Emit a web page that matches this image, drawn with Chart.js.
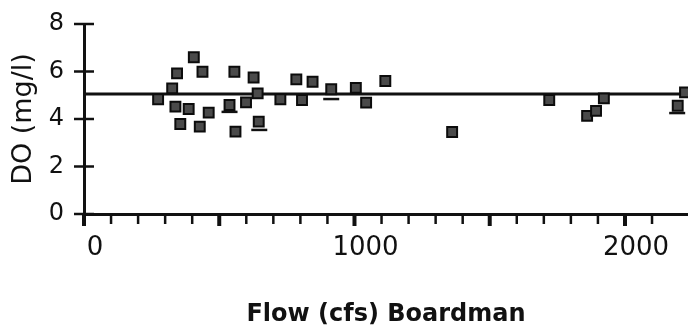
<!DOCTYPE html>
<html>
<head>
<meta charset="utf-8">
<script src="https://cdn.jsdelivr.net/npm/chart.js@4/dist/chart.umd.min.js"></script>
<style>
  html, body { margin: 0; padding: 0; background: #fff; }
  #wrap { width: 688px; height: 333px; position: relative; }
</style>
</head>
<body>
<div id="wrap"><canvas id="c"></canvas></div>
<script>
// Dissolved oxygen samples against river flow at Boardman
const flowCfs = [274, 326, 344, 406, 438, 338, 387, 461, 356, 428, 556, 538, 627, 599, 642, 560,
                 646, 726, 785, 806, 845, 914, 1005, 1043, 1114, 1361, 1720, 1860, 1893, 1922, 2195, 2222];
const doMgL   = [4.83, 5.29, 5.92, 6.60, 5.99, 4.52, 4.42, 4.27, 3.79, 3.68, 5.99, 4.59, 5.75, 4.70, 5.08, 3.47,
                 3.89, 4.83, 5.67, 4.80, 5.57, 5.25, 5.31, 4.69, 5.60, 3.45, 4.80, 4.13, 4.34, 4.87, 4.56, 5.12];

// short underscore marks beneath some samples
const markFlow = [538, 648, 914, 2193];
const markDo   = [4.30, 3.54, 4.84, 4.25];

// reference criterion line
const criterionFlow = [0, 2233];
const criterionDo   = [5.05, 5.05];

const xTickLabels = [0, 1000, 2000];
const yTickLabels = [0, 2, 4, 6, 8];
const xMax = 2233;

const ink = '#111';

// cross-through tick marks drawn on the scale positions
const axisTicks = {
  id: 'axisTicks',
  afterDraw(chart) {
    const { ctx, scales: { x, y } } = chart;
    const y0 = y.getPixelForValue(0);
    const x0 = x.getPixelForValue(0);
    ctx.save();
    ctx.strokeStyle = ink;
    ctx.lineCap = 'butt';
    x.ticks.forEach(t => {
      const px = x.getPixelForValue(t.value);
      const major = t.value % 500 === 0;
      ctx.lineWidth = major ? 4 : 2.5;
      ctx.beginPath();
      ctx.moveTo(px, y0);
      ctx.lineTo(px, y0 + (major ? 12 : 10));
      ctx.stroke();
    });
    y.ticks.forEach(t => {
      const py = y.getPixelForValue(t.value);
      ctx.lineWidth = 2.5;
      ctx.beginPath();
      ctx.moveTo(x0 - 10, py);
      ctx.lineTo(x0 + 10, py);
      ctx.stroke();
    });
    ctx.restore();
  }
};

new Chart(document.getElementById('c'), {
  type: 'scatter',
  data: {
    datasets: [
      {
        type: 'line',
        data: criterionFlow.map((f, i) => ({ x: f, y: criterionDo[i] })),
        borderColor: ink,
        borderWidth: 3,
        pointRadius: 0,
        fill: false,
        clip: false,
        order: 3
      },
      {
        data: markFlow.map((f, i) => ({ x: f, y: markDo[i] })),
        pointStyle: 'line',
        pointRadius: 8,
        borderColor: ink,
        borderWidth: 2.5,
        clip: false,
        order: 2
      },
      {
        data: flowCfs.map((f, i) => ({ x: f, y: doMgL[i] })),
        pointStyle: 'rect',
        pointRadius: 7,
        backgroundColor: '#4a4a4a',
        borderColor: '#0c0c0c',
        borderWidth: 2,
        clip: false,
        order: 1
      }
    ]
  },
  options: {
    responsive: true,
    maintainAspectRatio: false,
    animation: false,
    layout: { autoPadding: false, padding: { top: 24, right: 0, left: 0, bottom: 0 } },
    plugins: { legend: { display: false }, tooltip: { enabled: false } },
    scales: {
      x: {
        type: 'linear',
        min: 0,
        max: xMax,
        afterFit: s => { s.height = 119; s.paddingLeft = 0; s.paddingRight = 0; },
        afterBuildTicks: s => { s.ticks = s.ticks.filter(t => t.value % 100 === 0); },
        border: { display: true, color: ink, width: 3 },
        grid: { display: false, drawTicks: false, tickLength: 0 },
        ticks: {
          stepSize: 100,
          autoSkip: false,
          maxRotation: 0,
          padding: 19,
          labelOffset: 11,
          color: ink,
          font: { family: 'DejaVu Sans', size: 26 },
          callback: v => (xTickLabels.includes(v) ? String(v) : '')
        },
        title: {
          display: true,
          text: 'Flow (cfs) Boardman',
          color: ink,
          font: { family: 'DejaVu Sans', size: 24, weight: 'bold' },
          padding: { top: 0, bottom: 4 }
        }
      },
      y: {
        min: 0,
        max: 8,
        afterFit: s => { s.width = 84; s.paddingTop = 0; s.paddingBottom = 0; },
        afterBuildTicks: s => { s.ticks = yTickLabels.map(v => ({ value: v })); },
        border: { display: true, color: ink, width: 3 },
        grid: { display: false, drawTicks: false, tickLength: 0 },
        ticks: {
          stepSize: 2,
          padding: 20,
          color: ink,
          font: { family: 'DejaVu Sans', size: 24 }
        },
        title: {
          display: true,
          text: 'DO (mg/l)',
          color: ink,
          font: { family: 'DejaVu Sans', size: 27 },
          padding: { top: 8, bottom: 0 }
        }
      }
    }
  },
  plugins: [axisTicks]
});
</script>
</body>
</html>
